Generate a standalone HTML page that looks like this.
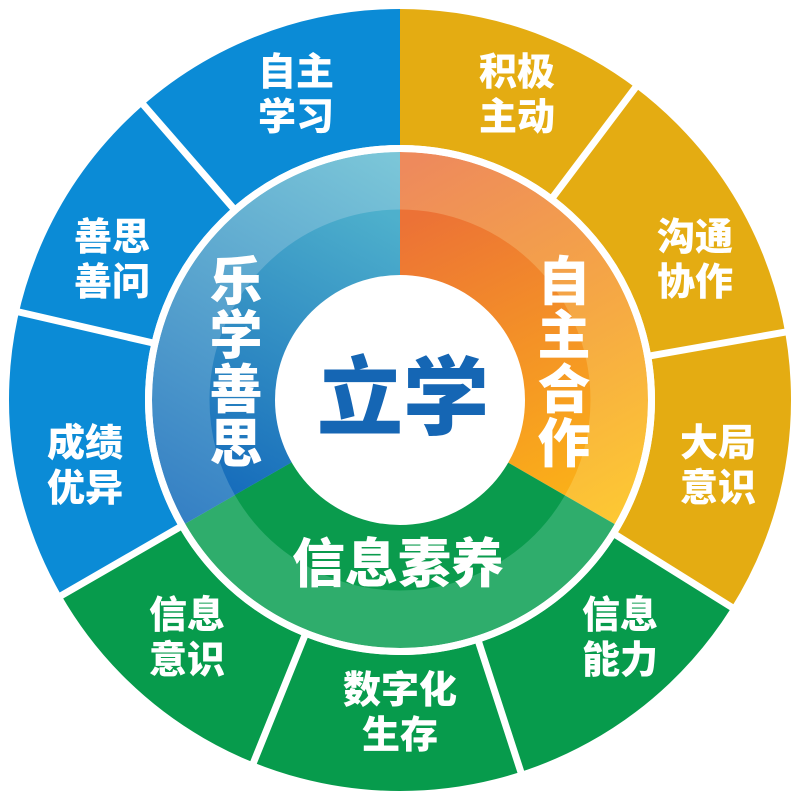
<!DOCTYPE html>
<html><head><meta charset="utf-8"><style>
html,body{margin:0;padding:0;background:#fff;width:800px;height:800px;overflow:hidden}
svg text{font-family:"Liberation Sans","Noto Sans CJK SC",sans-serif;font-weight:900;fill:#fff;text-anchor:middle}
</style></head><body>
<svg width="800" height="800" viewBox="0 0 800 800">
<defs>
<linearGradient id="gy" gradientUnits="userSpaceOnUse" x1="640" y1="420" x2="280" y2="620"><stop offset="0" stop-color="#ee8a5c"/><stop offset="0.5" stop-color="#f5a745"/><stop offset="1" stop-color="#fdc833"/></linearGradient>
<linearGradient id="gy2" gradientUnits="userSpaceOnUse" x1="585" y1="420" x2="300" y2="560"><stop offset="0" stop-color="#ec7236"/><stop offset="1" stop-color="#fbb018"/></linearGradient>
<linearGradient id="gb" gradientUnits="userSpaceOnUse" x1="645" y1="390" x2="280" y2="180"><stop offset="0" stop-color="#7bc6d8"/><stop offset="1" stop-color="#3580c4"/></linearGradient>
<linearGradient id="gb2" gradientUnits="userSpaceOnUse" x1="585" y1="390" x2="300" y2="240"><stop offset="0" stop-color="#4eb0cc"/><stop offset="1" stop-color="#166cbb"/></linearGradient>
</defs>
<g transform="rotate(-90 400 400)" fill="none">
<circle cx="400" cy="400" r="323" stroke="#e4ac12" stroke-width="136" stroke-dasharray="688.8 2029.5"/>
<circle cx="400" cy="400" r="323" stroke="#079b4c" stroke-width="136" stroke-dasharray="665.3 2029.5" stroke-dashoffset="-688.8"/>
<circle cx="400" cy="400" r="323" stroke="#0b8bd6" stroke-width="136" stroke-dasharray="676.5 2029.5" stroke-dashoffset="-1353"/>
<circle cx="400" cy="400" r="219" stroke="url(#gy)" stroke-width="58" stroke-dasharray="458.7 1376"/>
<circle cx="400" cy="400" r="219" stroke="#2fad6c" stroke-width="58" stroke-dasharray="458.7 1376" stroke-dashoffset="-458.7"/>
<circle cx="400" cy="400" r="219" stroke="url(#gb)" stroke-width="58" stroke-dasharray="458.7 1376" stroke-dashoffset="-917.3"/>
<circle cx="400" cy="400" r="157.5" stroke="url(#gy2)" stroke-width="66" stroke-dasharray="329.9 989.6"/>
<circle cx="400" cy="400" r="157.5" stroke="#0a9b4d" stroke-width="66" stroke-dasharray="329.9 989.6" stroke-dashoffset="-329.9"/>
<circle cx="400" cy="400" r="157.5" stroke="url(#gb2)" stroke-width="66" stroke-dasharray="329.9 989.6" stroke-dashoffset="-659.7"/>
</g>
<circle cx="400" cy="400" r="251.5" fill="none" stroke="#fff" stroke-width="7"/>
<circle cx="400" cy="400" r="125" fill="#fff"/>
<g stroke="#fff" stroke-width="7">
<line x1="400" y1="400" x2="400" y2="0" transform="rotate(37 400 400)" stroke-dasharray="0 250 200"/>
<line x1="400" y1="400" x2="400" y2="0" transform="rotate(80 400 400)" stroke-dasharray="0 250 200"/>
<line x1="400" y1="400" x2="400" y2="0" transform="rotate(122 400 400)" stroke-dasharray="0 250 200"/>
<line x1="400" y1="400" x2="400" y2="0" transform="rotate(162 400 400)" stroke-dasharray="0 250 200"/>
<line x1="400" y1="400" x2="400" y2="0" transform="rotate(202 400 400)" stroke-dasharray="0 250 200"/>
<line x1="400" y1="400" x2="400" y2="0" transform="rotate(240 400 400)" stroke-dasharray="0 250 200"/>
<line x1="400" y1="400" x2="400" y2="0" transform="rotate(283 400 400)" stroke-dasharray="0 250 200"/>
<line x1="400" y1="400" x2="400" y2="0" transform="rotate(319 400 400)" stroke-dasharray="0 250 200"/>
</g>
<text x="403" y="428" font-size="86" style="fill:#1566b4">立学</text>
<g font-size="53">
<text x="236" y="300">乐</text><text x="236" y="354">学</text><text x="236" y="408">善</text><text x="236" y="462">思</text>
<text x="564" y="300">自</text><text x="564" y="354">主</text><text x="564" y="408">合</text><text x="564" y="462">作</text>
<text x="398" y="582">信息素养</text>
</g>
<g font-size="38">
<text x="296" y="85">自主</text><text x="296" y="130">学习</text>
<text x="517" y="85">积极</text><text x="517" y="130">主动</text>
<text x="695" y="250">沟通</text><text x="695" y="295">协作</text>
<text x="718" y="456">大局</text><text x="718" y="501">意识</text>
<text x="620" y="628">信息</text><text x="620" y="673">能力</text>
<text x="400" y="703">数字化</text><text x="400" y="748">生存</text>
<text x="187" y="628">信息</text><text x="187" y="673">意识</text>
<text x="85" y="456">成绩</text><text x="85" y="501">优异</text>
<text x="112" y="250">善思</text><text x="112" y="295">善问</text>
</g>
</svg>
</body></html>
